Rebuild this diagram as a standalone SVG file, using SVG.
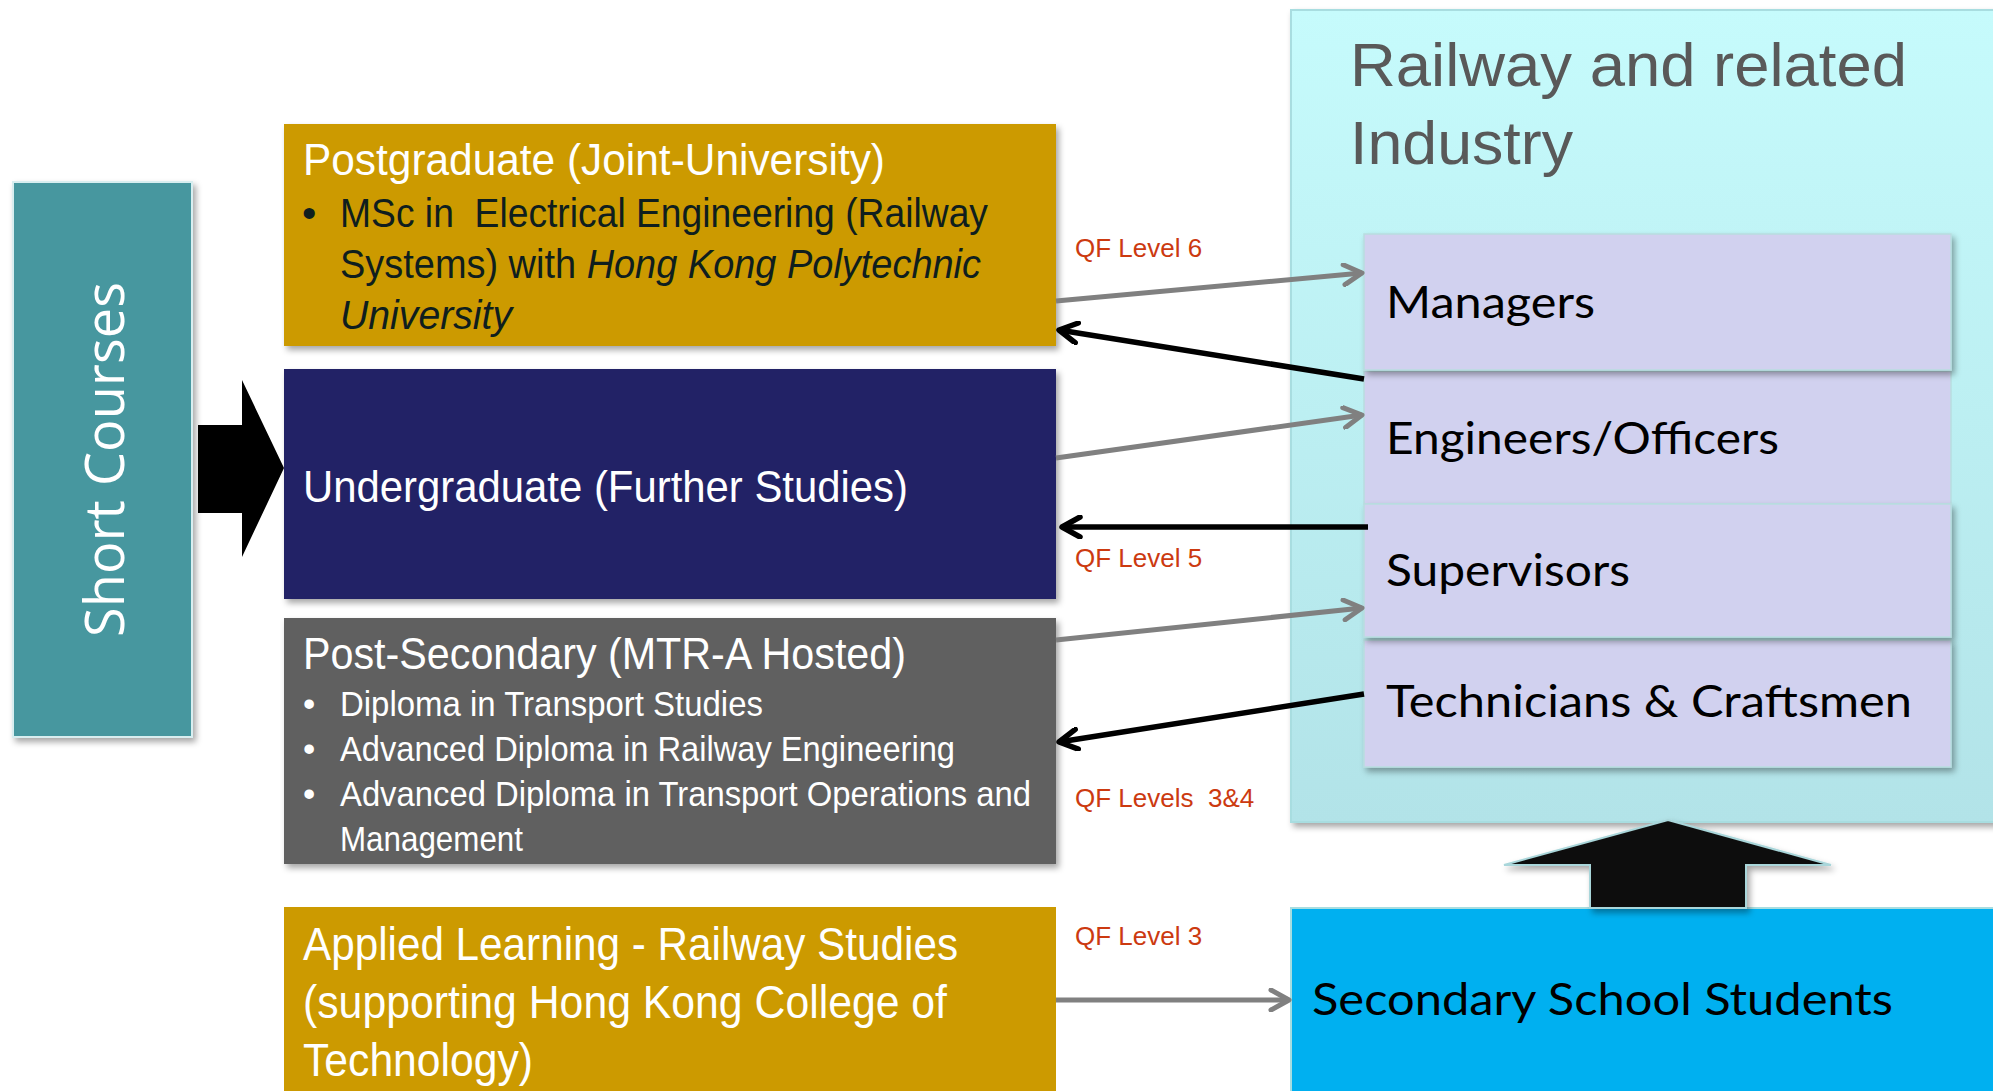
<svg xmlns="http://www.w3.org/2000/svg" width="1993" height="1091" viewBox="0 0 1993 1091">
<style>
.nar{font-family:"Liberation Sans Narrow","Liberation Sans",Arial,sans-serif;}
.wt{fill:#ffffff;}
.dk{fill:#0f1e1e;}
.ttl{font-size:45px;}
.b40{font-size:41px;}
.b35{font-size:35px;}
.app{font-size:47px;}
.role{font-family:Lato,"Open Sans",sans-serif;font-size:44px;fill:#000000;}
.qf{font-family:"Liberation Sans",Arial,sans-serif;font-size:26px;fill:#cc3a10;}
.gl{stroke:#808080;stroke-width:5;fill:none;}
.bl{stroke:#000000;stroke-width:5.5;fill:none;}
</style>
<defs>
<filter id="sh" x="-10%" y="-10%" width="125%" height="130%">
<feDropShadow dx="3" dy="4" stdDeviation="3" flood-color="#000" flood-opacity="0.35"/>
</filter>
<linearGradient id="ind" x1="0" y1="0" x2="0" y2="1">
<stop offset="0" stop-color="#c6fbfc"/>
<stop offset="1" stop-color="#b2e3e8"/>
</linearGradient>
<marker id="ag" viewBox="0 0 24 24" refX="21" refY="12" markerWidth="24" markerHeight="24" markerUnits="userSpaceOnUse" orient="auto">
<path d="M3,2 L21,12 L3,22" fill="none" stroke="#808080" stroke-width="5" stroke-linecap="round" stroke-linejoin="round"/>
</marker>
<marker id="ab" viewBox="0 0 24 24" refX="21" refY="12" markerWidth="24" markerHeight="24" markerUnits="userSpaceOnUse" orient="auto">
<path d="M3,2 L21,12 L3,22" fill="none" stroke="#000000" stroke-width="5.5" stroke-linecap="round" stroke-linejoin="round"/>
</marker>
</defs>
<rect width="1993" height="1091" fill="#ffffff"/>

<g id="industry">
<rect x="1291" y="10" width="710" height="812" fill="url(#ind)" stroke="#a8dde0" stroke-width="2" filter="url(#sh)"/>
<text class="nar" x="1350" y="86" font-size="61" fill="#595959" textLength="557" lengthAdjust="spacingAndGlyphs">Railway and related</text>
<text class="nar" x="1350" y="164" font-size="61" fill="#595959" textLength="223" lengthAdjust="spacingAndGlyphs">Industry</text>
</g>

<g id="engineers">
<rect x="1364" y="371" width="587" height="133" fill="#d1d1ef" stroke="#b8dde0" stroke-width="1.5"/>
<text class="role" x="1386" y="454" textLength="393" lengthAdjust="spacingAndGlyphs">Engineers/Officers</text>
</g>
<g id="technicians">
<rect x="1364" y="640" width="587" height="127" fill="#d1d1ef" stroke="#b8dde0" stroke-width="1.5" filter="url(#sh)"/>
<text class="role" x="1386" y="717" textLength="526" lengthAdjust="spacingAndGlyphs">Technicians &amp; Craftsmen</text>
</g>
<g id="managers">
<rect x="1364" y="234" width="587" height="136" fill="#d1d1ef" stroke="#b8dde0" stroke-width="1.5" filter="url(#sh)"/>
<text class="role" x="1386" y="318" textLength="209" lengthAdjust="spacingAndGlyphs">Managers</text>
</g>
<g id="supervisors">
<rect x="1364" y="504" width="587" height="133" fill="#d1d1ef" stroke="#b8dde0" stroke-width="1.5" filter="url(#sh)"/>
<text class="role" x="1386" y="586" textLength="244" lengthAdjust="spacingAndGlyphs">Supervisors</text>
</g>

<g id="secondary">
<rect x="1291" y="908" width="710" height="190" fill="#00b0f0" stroke="#a8dde0" stroke-width="2"/>
<text class="role" x="1312" y="1015" textLength="581" lengthAdjust="spacingAndGlyphs">Secondary School Students</text>
</g>

<g id="up-arrow">
<polygon points="1668,820 1831,865 1746,865 1746,908 1590,908 1590,865 1504,865" fill="#111111" stroke="#a9d6da" stroke-width="2" filter="url(#sh)"/>
</g>

<g id="short-courses">
<rect x="13" y="182" width="179" height="555" fill="#46979f" stroke="#d8eef0" stroke-width="2" filter="url(#sh)"/>
<text transform="translate(124,637) rotate(-90)" x="0" y="0" font-family="'Open Sans',sans-serif" font-size="55" fill="#ffffff" textLength="355" lengthAdjust="spacingAndGlyphs">Short Courses</text>
</g>

<g id="big-arrow">
<polygon points="198,425 242,425 242,380 284,468 242,557 242,513 198,513" fill="#000000"/>
</g>

<g id="postgraduate">
<rect x="284" y="124" width="772" height="222" fill="#cc9a00" filter="url(#sh)"/>
<text class="nar wt ttl" x="303" y="175" textLength="582" lengthAdjust="spacingAndGlyphs">Postgraduate (Joint-University)</text>
<text class="nar dk b40" x="302" y="227">•</text>
<text class="nar dk b40" x="340" y="227" style="white-space:pre" textLength="648" lengthAdjust="spacingAndGlyphs">MSc in  Electrical Engineering (Railway</text>
<text class="nar dk b40" x="340" y="278" textLength="641" lengthAdjust="spacingAndGlyphs">Systems) with <tspan font-style="italic">Hong Kong Polytechnic</tspan></text>
<text class="nar dk b40" x="340" y="329" font-style="italic" textLength="172" lengthAdjust="spacingAndGlyphs">University</text>
</g>

<g id="undergraduate">
<rect x="284" y="369" width="772" height="230" fill="#232166" filter="url(#sh)"/>
<text class="nar wt ttl" x="303" y="502" textLength="605" lengthAdjust="spacingAndGlyphs">Undergraduate (Further Studies)</text>
</g>

<g id="post-secondary">
<rect x="284" y="618" width="772" height="246" fill="#606060" filter="url(#sh)"/>
<text class="nar wt ttl" x="303" y="669" textLength="603" lengthAdjust="spacingAndGlyphs">Post-Secondary (MTR-A Hosted)</text>
<text class="nar wt b35" x="303" y="716">•</text>
<text class="nar wt b35" x="340" y="716" textLength="423" lengthAdjust="spacingAndGlyphs">Diploma in Transport Studies</text>
<text class="nar wt b35" x="303" y="761">•</text>
<text class="nar wt b35" x="340" y="761" textLength="615" lengthAdjust="spacingAndGlyphs">Advanced Diploma in Railway Engineering</text>
<text class="nar wt b35" x="303" y="806">•</text>
<text class="nar wt b35" x="340" y="806" textLength="691" lengthAdjust="spacingAndGlyphs">Advanced Diploma in Transport Operations and</text>
<text class="nar wt b35" x="340" y="851" textLength="183" lengthAdjust="spacingAndGlyphs">Management</text>
</g>

<g id="applied-learning">
<rect x="284" y="907" width="772" height="190" fill="#cc9a00"/>
<text class="nar wt app" x="303" y="960" textLength="655" lengthAdjust="spacingAndGlyphs">Applied Learning - Railway Studies</text>
<text class="nar wt app" x="303" y="1018" textLength="644" lengthAdjust="spacingAndGlyphs">(supporting Hong Kong College of</text>
<text class="nar wt app" x="303" y="1076" textLength="230" lengthAdjust="spacingAndGlyphs">Technology)</text>
</g>

<g id="labels">
<text class="qf" x="1075" y="257">QF Level 6</text>
<text class="qf" x="1075" y="567">QF Level 5</text>
<text class="qf" x="1075" y="807" style="white-space:pre">QF Levels  3&amp;4</text>
<text class="qf" x="1075" y="945">QF Level 3</text>
</g>

<g id="connectors">
<line class="gl" x1="1056" y1="301" x2="1362" y2="273" marker-end="url(#ag)"/>
<line class="bl" x1="1364" y1="379" x2="1059" y2="330" marker-end="url(#ab)"/>
<line class="gl" x1="1056" y1="458" x2="1362" y2="415" marker-end="url(#ag)"/>
<line class="bl" x1="1368" y1="527" x2="1062" y2="527" marker-end="url(#ab)"/>
<line class="gl" x1="1056" y1="640" x2="1362" y2="608" marker-end="url(#ag)"/>
<line class="bl" x1="1364" y1="694" x2="1059" y2="742" marker-end="url(#ab)"/>
<line class="gl" x1="1056" y1="1000" x2="1289" y2="1000" marker-end="url(#ag)"/>
</g>
</svg>
